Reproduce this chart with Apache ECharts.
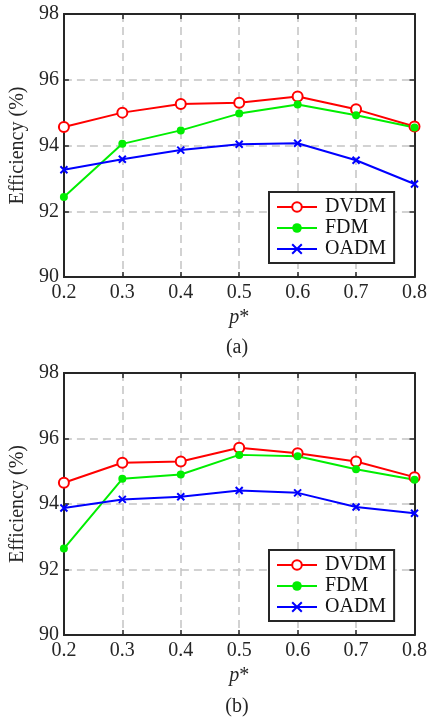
<!DOCTYPE html>
<html>
<head>
<meta charset="utf-8">
<script src="https://cdn.jsdelivr.net/npm/echarts@6/dist/echarts.min.js"></script>
<style>
html,body{margin:0;padding:0;background:#fff;}
#chart{width:430px;height:719px;}
</style>
</head>
<body>
<div id="chart"></div>
<script>
// ---- data ----
var pValues = ['0.2', '0.3', '0.4', '0.5', '0.6', '0.7', '0.8'];
var yTicks = { min: 90, max: 98, interval: 2 };
var seriesNames = ['DVDM', 'FDM', 'OADM'];
var panelLabels = ['(a)', '(b)'];

var dvdmA = [94.56, 95.00, 95.26, 95.30, 95.49, 95.10, 94.58];
var fdmA  = [92.43, 94.05, 94.46, 94.97, 95.25, 94.92, 94.55];
var oadmA = [93.26, 93.58, 93.86, 94.04, 94.07, 93.55, 92.83];

var dvdmB = [94.65, 95.26, 95.30, 95.72, 95.55, 95.30, 94.82];
var fdmB  = [92.64, 94.77, 94.90, 95.50, 95.46, 95.06, 94.74];
var oadmB = [93.88, 94.14, 94.22, 94.41, 94.34, 93.91, 93.72];

// ---- styling ----
var FONT = '"Liberation Serif", "Times New Roman", serif';
var AX = '#262626';
var FS = 20;

var grids = [
  { left: 57, right: 12, top: 14, height: 263 },
  { left: 57, right: 12, top: 373, height: 262 }
];

function xAxes(gi) {
  return [
    {
      type: 'category', gridIndex: gi, data: pValues, boundaryGap: false,
      axisLine: { show: true, lineStyle: { color: AX, width: 2 } },
      axisTick: { show: true, inside: true, length: 5, lineStyle: { color: AX, width: 1.5 } },
      axisLabel: { color: AX, fontFamily: FONT, fontSize: FS, margin: 6 },
      splitLine: { show: true, lineStyle: { color: '#c4c4c4', width: 1.5, type: [8, 5] } },
      name: '{i|p}*', nameLocation: 'middle', nameGap: 31,
      nameTextStyle: { color: AX, fontFamily: FONT, fontSize: FS,
        rich: { i: { fontStyle: 'italic', fontFamily: FONT, fontSize: FS, color: AX } } }
    },
    {
      type: 'category', gridIndex: gi, data: pValues, boundaryGap: false, position: 'top',
      axisLine: { show: true, lineStyle: { color: AX, width: 2 } },
      axisTick: { show: true, inside: true, length: 5, lineStyle: { color: AX, width: 1.5 } },
      axisLabel: { show: false }, splitLine: { show: false }
    }
  ];
}
function yAxes(gi) {
  return [
    {
      type: 'value', gridIndex: gi, min: yTicks.min, max: yTicks.max, interval: yTicks.interval,
      axisLine: { show: true, lineStyle: { color: AX, width: 2 } },
      axisTick: { show: true, inside: true, length: 5, lineStyle: { color: AX, width: 1.5 } },
      axisLabel: { color: AX, fontFamily: FONT, fontSize: FS, margin: 5 },
      splitLine: { show: true, lineStyle: { color: '#c4c4c4', width: 1.5, type: [8, 5] } },
      name: 'Efficiency (%)', nameLocation: 'middle', nameGap: 30,
      nameTextStyle: { color: AX, fontFamily: FONT, fontSize: FS }
    },
    {
      type: 'value', gridIndex: gi, min: yTicks.min, max: yTicks.max, interval: yTicks.interval,
      position: 'right',
      axisLine: { show: true, lineStyle: { color: AX, width: 2 } },
      axisTick: { show: true, inside: true, length: 5, lineStyle: { color: AX, width: 1.5 } },
      axisLabel: { show: false }, splitLine: { show: false }
    }
  ];
}

var X_PATH = 'path://M0,0L10,10M10,0L0,10';
function makeSeries(gi, dvdm, fdm, oadm) {
  var xi = gi * 2, yi = gi * 2;
  return [
    { name: seriesNames[0], type: 'line', xAxisIndex: xi, yAxisIndex: yi, data: dvdm,
      symbol: 'circle', symbolSize: 10,
      lineStyle: { color: '#ff0000', width: 2 },
      itemStyle: { color: '#ffffff', borderColor: '#ff0000', borderWidth: 2 } },
    { name: seriesNames[1], type: 'line', xAxisIndex: xi, yAxisIndex: yi, data: fdm,
      symbol: 'circle', symbolSize: 8,
      lineStyle: { color: '#00ee00', width: 2 },
      itemStyle: { color: '#00ee00', borderColor: '#00ee00', borderWidth: 0 } },
    { name: seriesNames[2], type: 'line', xAxisIndex: xi, yAxisIndex: yi, data: oadm,
      symbol: X_PATH, symbolSize: 7,
      lineStyle: { color: '#0000ff', width: 2 },
      itemStyle: { color: '#0000ff', borderColor: '#0000ff', borderWidth: 2 } }
  ];
}

function legend(top) {
  return {
    data: seriesNames, orient: 'vertical', left: 269, top: top,
    backgroundColor: '#ffffff', borderColor: AX, borderWidth: 2,
    padding: [5, 8, 4, 7], itemWidth: 40, itemHeight: 12, itemGap: 1,
    textStyle: { color: '#111', fontFamily: FONT, fontSize: FS, padding: [0, 0, 0, 3] }
  };
}

var option = {
  animation: false,
  backgroundColor: '#ffffff',
  grid: grids,
  xAxis: xAxes(0).concat(xAxes(1)),
  yAxis: yAxes(0).concat(yAxes(1)),
  legend: [legend(192), legend(550)],
  title: [
    { text: panelLabels[0], left: 237, top: 338, textAlign: 'center', padding: 0,
      textStyle: { color: AX, fontFamily: FONT, fontSize: FS, fontWeight: 'normal' } },
    { text: panelLabels[1], left: 237, top: 697, textAlign: 'center', padding: 0,
      textStyle: { color: AX, fontFamily: FONT, fontSize: FS, fontWeight: 'normal' } }
  ],
  series: makeSeries(0, dvdmA, fdmA, oadmA).concat(makeSeries(1, dvdmB, fdmB, oadmB))
};

var chart = echarts.init(document.getElementById('chart'), null, { renderer: 'canvas' });
chart.setOption(option);
</script>
</body>
</html>
